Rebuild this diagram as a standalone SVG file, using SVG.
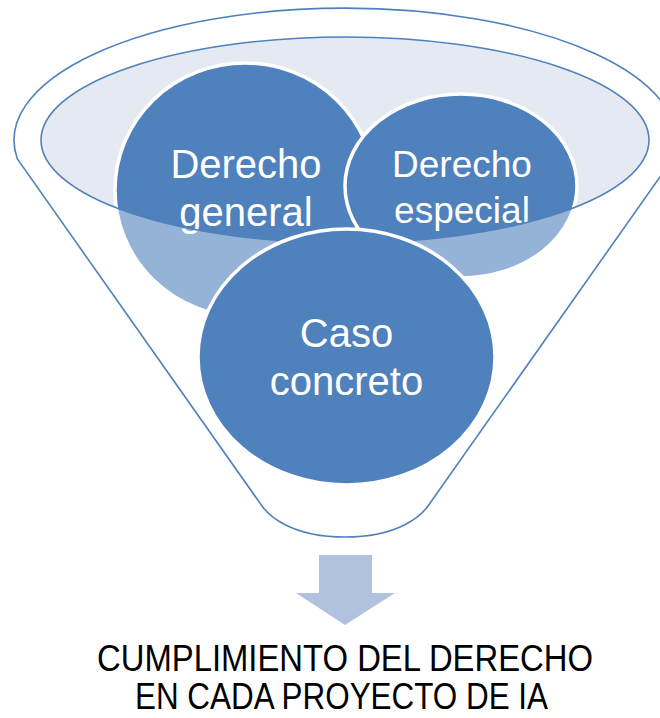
<svg xmlns="http://www.w3.org/2000/svg" width="660" height="718" viewBox="0 0 660 718">
  <style>
    .edge { fill: none; stroke: #4F81BD; stroke-width: 1.6; }
    .node { fill: #4F81BD; stroke: #FFFFFF; stroke-width: 3.5; }
    .lbl { fill: #FFFFFF; font-family: "Liberation Sans", Arial, sans-serif; text-anchor: middle; }
    .out { fill: #000000; font-family: "Liberation Sans", Arial, sans-serif; text-anchor: middle; font-size: 37px; }
  </style>
  <rect width="660" height="718" fill="#FFFFFF"/>
  <g id="funnel">
    <path id="funnel-body" d="M 17.4,159 A 331 132 0 1 1 672.6,159 L 428,506 C 422,514.5 400,537 345,537 C 290,537 268,514.5 262,506 Z" fill="#FFFFFF"/>
    <ellipse id="funnel-mouth" cx="345" cy="140" rx="304" ry="103" fill="#E4E9F2"/>
  </g>
  <g id="node-general">
    <ellipse class="node" cx="245" cy="190" rx="130" ry="127"/>
    <text class="lbl" font-size="40" x="246" y="178">Derecho</text>
    <text class="lbl" font-size="40" x="246" y="226">general</text>
  </g>
  <g id="node-especial">
    <ellipse class="node" cx="461" cy="186" rx="116" ry="92"/>
    <text class="lbl" font-size="37" x="462" y="177">Derecho</text>
    <text class="lbl" font-size="37" x="462" y="223">especial</text>
  </g>
  <g id="funnel-front">
    <path d="M 17.4,159 A 331 132 0 1 1 672.6,159 L 428,506 C 422,514.5 400,537 345,537 C 290,537 268,514.5 262,506 Z M 41,140 A 304 103 0 1 0 649,140 A 304 103 0 1 0 41,140 Z" fill="#FFFFFF" fill-opacity="0.4" fill-rule="evenodd"/>
    <path class="edge" d="M 17.4,159 A 331 132 0 1 1 672.6,159 L 428,506 C 422,514.5 400,537 345,537 C 290,537 268,514.5 262,506 Z"/>
    <ellipse class="edge" cx="345" cy="140" rx="304" ry="103"/>
  </g>
  <g id="node-caso">
    <ellipse class="node" cx="346.5" cy="357" rx="148.5" ry="128"/>
    <text class="lbl" font-size="40" x="346.5" y="347">Caso</text>
    <text class="lbl" font-size="40" x="346.5" y="395">concreto</text>
  </g>
  <g id="connectors">
    <path id="arrow" d="M 319,555 L 372,555 L 372,593 L 395,593 L 345,625 L 296,593 L 319,593 Z" fill="#B0C2DE"/>
  </g>
  <g id="result">
    <text class="out" x="345" y="671" textLength="496" lengthAdjust="spacingAndGlyphs">CUMPLIMIENTO DEL DERECHO</text>
    <text class="out" x="341.5" y="709" textLength="413" lengthAdjust="spacingAndGlyphs">EN CADA PROYECTO DE IA</text>
  </g>
</svg>
